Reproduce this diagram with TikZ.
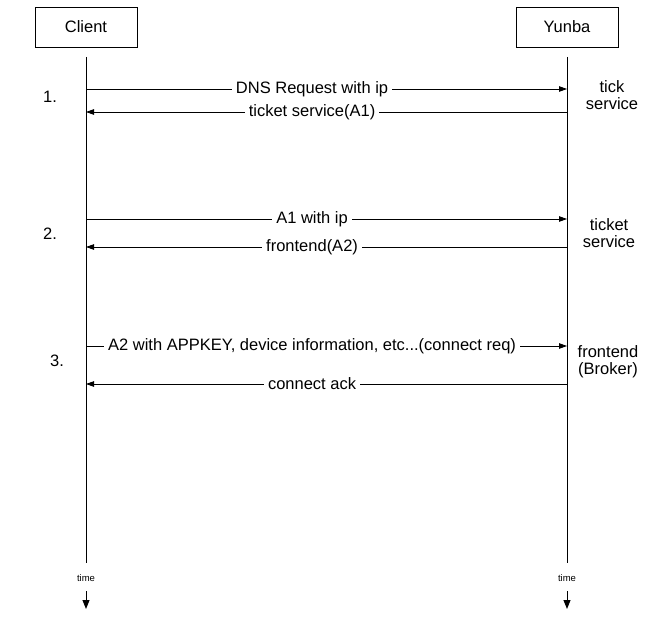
\documentclass[tikz,border=0pt]{standalone}
\usepackage{fontspec}
\setmainfont{Liberation Sans}
\usetikzlibrary{arrows.meta}

\begin{document}
\begin{tikzpicture}[x=1pt,y=-1pt,
        actor/.style={draw,line width=0.8pt,minimum width=102pt,minimum height=40pt,font=\fontsize{16.5}{19}\selectfont},
        lifeline/.style={line width=0.8pt},
        msg/.style={line width=0.8pt,-{Triangle[length=8pt,width=5.5pt]}},
        timearrow/.style={line width=1pt,-{Triangle[length=9pt,width=7pt]}},
        msglabel/.style={fill=white,inner xsep=4pt,inner ysep=1pt,font=\fontsize{16.5}{19}\selectfont},
        step label/.style={font=\fontsize{16.5}{19}\selectfont},
        side/.style={align=center,font=\fontsize{16.5}{17}\selectfont},
        timelabel/.style={font=\fontsize{9.5}{11}\selectfont}
    ]
    \useasboundingbox (0,0) rectangle (658,642);

    % participants
    \node[actor] (client) at (86,27) {Client};
    \node[actor] (yunba) at (567,27) {Yunba};

    % lifelines
    \coordinate (ctop) at (86,57);
    \coordinate (ytop) at (567,57);
    \coordinate (cbot) at (86,563);
    \coordinate (ybot) at (567,563);
    \draw[lifeline] (ctop) -- (cbot);
    \draw[lifeline] (ytop) -- (ybot);

    % time arrows
    \node[timelabel] (ctime) at (86,578) {time};
    \node[timelabel] (ytime) at (567,578) {time};
    \coordinate (cstart) at (86,591);
    \coordinate (ystart) at (567,591);
    \coordinate (cend) at (86,609);
    \coordinate (yend) at (567,609);
    \draw[timearrow] (cstart) -- (cend);
    \draw[timearrow] (ystart) -- (yend);

    % step 1
    \coordinate (c1a) at (86,89);
    \coordinate (y1a) at (567,89);
    \coordinate (c1b) at (86,112);
    \coordinate (y1b) at (567,112);
    \draw[msg] (c1a) -- node[msglabel,pos=0.47] {DNS Request with ip} (y1a);
    \draw[msg] (y1b) -- node[msglabel,pos=0.53] {ticket service(A1)} (c1b);
    \node[step label] (n1) at (50,97) {1.};
    \node[side] (s1) at (612,95) {tick\\service};

    % step 2
    \coordinate (c2a) at (86,219);
    \coordinate (y2a) at (567,219);
    \coordinate (c2b) at (86,247);
    \coordinate (y2b) at (567,247);
    \draw[msg] (c2a) -- node[msglabel,pos=0.47] {A1 with ip} (y2a);
    \draw[msg] (y2b) -- node[msglabel,pos=0.53] {frontend(A2)} (c2b);
    \node[step label] (n2) at (50,234) {2.};
    \node[side] (s2) at (609,233) {ticket\\service};

    % step 3
    \coordinate (c3a) at (86,346);
    \coordinate (y3a) at (567,346);
    \coordinate (c3b) at (86,384);
    \coordinate (y3b) at (567,384);
    \draw[msg] (c3a) -- node[msglabel,pos=0.47] {A2 with APPKEY, device information, etc...(connect req)} (y3a);
    \draw[msg] (y3b) -- node[msglabel,pos=0.53] {connect ack} (c3b);
    \node[step label] (n3) at (57,361) {3.};
    \node[side] (s3) at (608,362) {frontend\\(Broker)};

\end{tikzpicture}
\end{document}
